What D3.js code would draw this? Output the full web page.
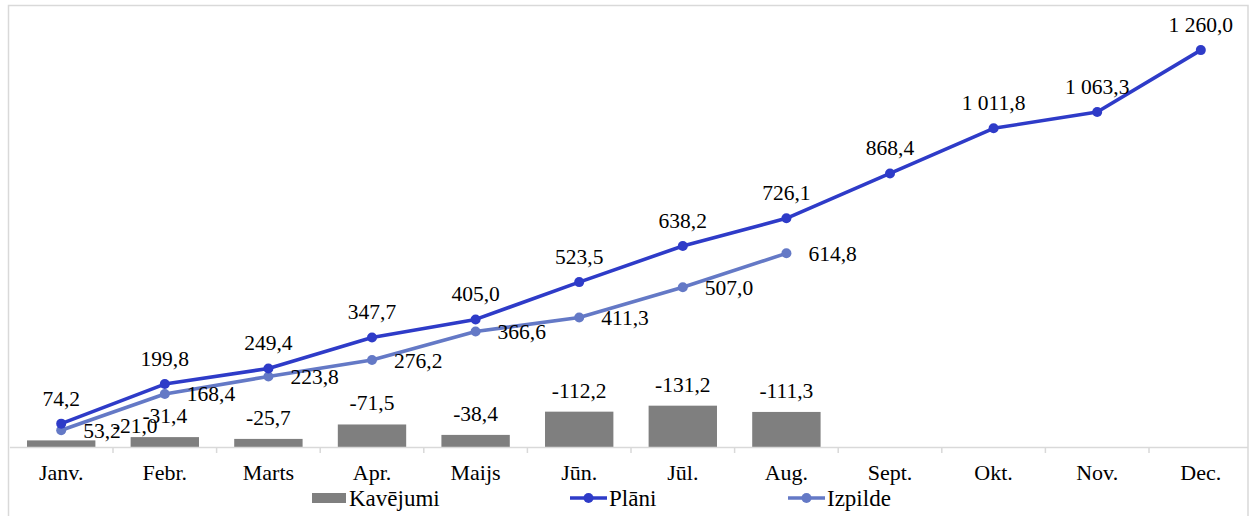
<!DOCTYPE html>
<html><head><meta charset="utf-8">
<script src="https://cdn.jsdelivr.net/npm/d3@7"></script>
<style>
body{margin:0;background:#fff}
svg{display:block}
svg text{font-family:'Liberation Serif','DejaVu Serif',serif !important;fill:#000}
</style>
</head><body>
<svg id="c" width="1255" height="516"></svg>
<script>
const months = ["Janv.","Febr.","Marts","Apr.","Maijs","Jūn.","Jūl.","Aug.","Sept.","Okt.","Nov.","Dec."];
const kavejumi = [-21.0,-31.4,-25.7,-71.5,-38.4,-112.2,-131.2,-111.3];
const plani = [74.2,199.8,249.4,347.7,405.0,523.5,638.2,726.1,868.4,1011.8,1063.3,1260.0];
const izpilde = [53.2,168.4,223.8,276.2,366.6,411.3,507.0,614.8];
const seriesNames = ["Kavējumi","Plāni","Izpilde"];

const colBar = "#7f7f7f", colPlan = "#2e3bc8", colIzp = "#6479c6";
const FS_LAB = 21.5, FS_AX = 22, FS_LEG = 23;
const FF = "'Liberation Serif','DejaVu Serif',serif";
const loc = d3.formatLocale({decimal:",", thousands:" ", grouping:[3], currency:["",""], minus:"-"});
const fmt = loc.format(",.1f");

const svg = d3.select("#c");
const x = d3.scaleBand().domain(months).range([9.4, 1252.6]);
const bw = x.bandwidth();
const cx = d => x(d) + bw/2;
const y = d3.scaleLinear().domain([0, 1400]).range([447, 6]);

svg.append("defs").append("clipPath").attr("id","cl")
  .append("rect").attr("x",8).attr("y",5).attr("width",1240).attr("height",520);

svg.append("rect").attr("x",8.5).attr("y",5.5).attr("width",1239.5).attr("height",530)
  .attr("fill","none").attr("stroke","#d9d9d9").attr("stroke-width",1.5);

const g = svg.append("g").attr("clip-path","url(#cl)");

const barPad = 0.17;
g.selectAll("rect.bar").data(kavejumi).join("rect").attr("class","bar")
  .attr("x",(d,i)=>x(months[i]) + bw*barPad)
  .attr("width", bw*(1-2*barPad))
  .attr("y",d=>y(Math.abs(d)))
  .attr("height",d=>y(0)-y(Math.abs(d)))
  .attr("fill",colBar);

const ax = g.append("g").attr("transform",`translate(0,${y(0)})`)
  .call(d3.axisBottom(x).tickSize(0).tickPadding(17));
ax.attr("font-family",FF).attr("font-size",FS_AX);
ax.select(".domain").attr("stroke","#d9d9d9").attr("stroke-width",1.5);
ax.selectAll(".tick text").attr("fill","#000");
g.selectAll("line.tk").data(months.slice(1)).join("line").attr("class","tk")
  .attr("x1",d=>x(d)).attr("x2",d=>x(d)).attr("y1",y(0)).attr("y2",y(0)+6)
  .attr("stroke","#d9d9d9").attr("stroke-width",1.5);

const line = d3.line().x((d,i)=>cx(months[i])).y(d=>y(d));
g.append("path").datum(izpilde).attr("d",line).attr("fill","none").attr("stroke",colIzp).attr("stroke-width",3.6).attr("stroke-linejoin","round");
g.append("path").datum(plani).attr("d",line).attr("fill","none").attr("stroke",colPlan).attr("stroke-width",3.6).attr("stroke-linejoin","round");
g.selectAll("circle.iz").data(izpilde).join("circle").attr("class","iz")
  .attr("cx",(d,i)=>cx(months[i])).attr("cy",d=>y(d)).attr("r",5).attr("fill",colIzp);
g.selectAll("circle.pl").data(plani).join("circle").attr("class","pl")
  .attr("cx",(d,i)=>cx(months[i])).attr("cy",d=>y(d)).attr("r",5).attr("fill",colPlan);

const lab = svg.append("g").attr("font-size",FS_LAB).attr("font-family",FF);
lab.selectAll("text.bl").data(kavejumi).join("text").attr("class","bl")
  .attr("x",(d,i)=>cx(months[i]) + (i===0 ? 74 : 0))
  .attr("y",(d,i)=>y(Math.abs(d)) - (i===0 ? 7 : 14))
  .attr("text-anchor","middle").text(d=>fmt(d));
lab.selectAll("text.il").data(izpilde).join("text").attr("class","il")
  .attr("x",(d,i)=>cx(months[i]) + 22).attr("y",d=>y(d)).attr("dy","0.35em")
  .attr("text-anchor","start").text(d=>fmt(d));
lab.selectAll("text.pl").data(plani).join("text").attr("class","pl")
  .attr("x",(d,i)=>cx(months[i])).attr("y",d=>y(d)-18)
  .attr("text-anchor","middle").text(d=>fmt(d));

const ly = 498;
const leg = svg.append("g").attr("font-size",FS_LEG).attr("font-family",FF);
const lx = [312, 570, 788];
leg.append("rect").attr("x",lx[0]).attr("y",ly-5).attr("width",34).attr("height",10).attr("fill",colBar);
[[colPlan,1],[colIzp,2]].forEach(([c,k])=>{
  leg.append("line").attr("x1",lx[k]).attr("x2",lx[k]+37).attr("y1",ly).attr("y2",ly).attr("stroke",c).attr("stroke-width",3.6);
  leg.append("circle").attr("cx",lx[k]+18.5).attr("cy",ly).attr("r",5).attr("fill",c);
});
leg.selectAll("text").data(seriesNames).join("text")
  .attr("x",(d,i)=>lx[i] + (i===0 ? 37 : 39)).attr("y",ly).attr("dy","0.35em").text(d=>d);
</script>
</body></html>
